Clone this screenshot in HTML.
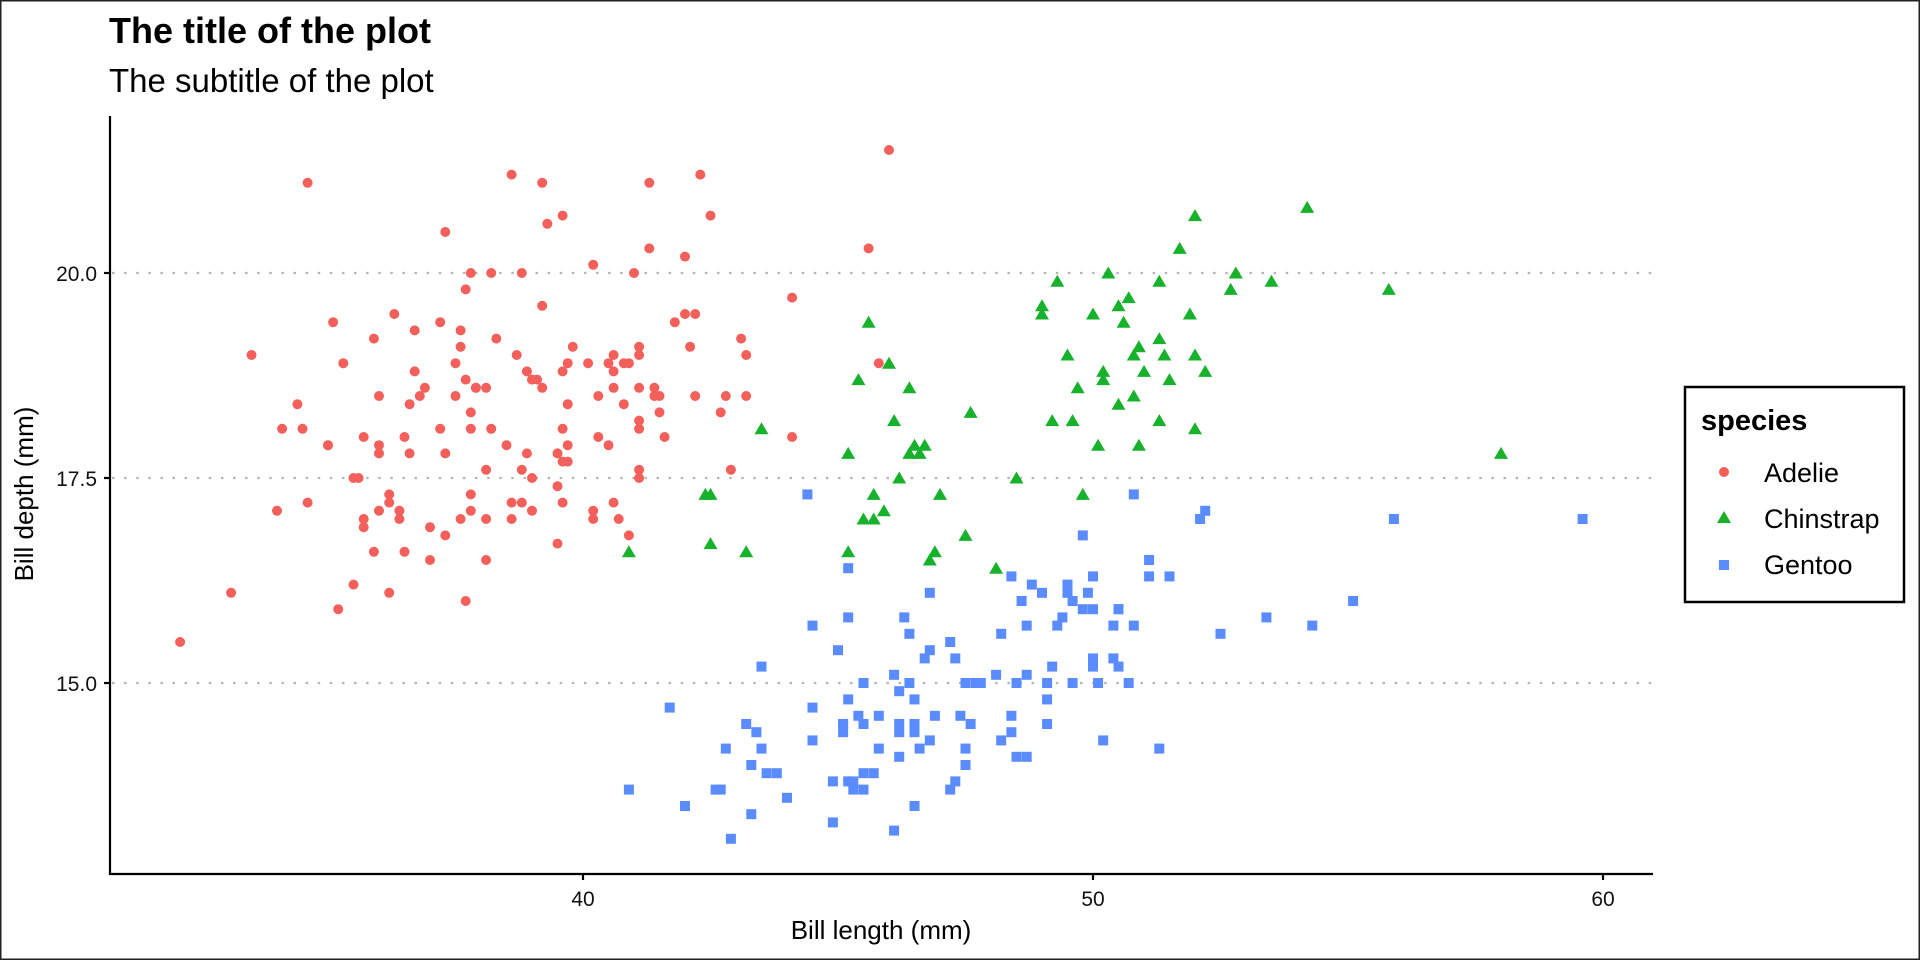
<!DOCTYPE html>
<html><head><meta charset="utf-8"><style>
html,body{margin:0;padding:0;background:#fff;}
svg{display:block;font-family:"Liberation Sans",Arial,sans-serif;}
</style></head><body>
<svg id="s" width="1920" height="960" xmlns="http://www.w3.org/2000/svg">
<rect x="0.75" y="0.75" width="1918.5" height="958.5" fill="#fff" stroke="#222" stroke-width="1.5"/>
<text x="109" y="43" font-size="36" font-weight="bold">The title of the plot</text>
<text x="109" y="92" font-size="33">The subtitle of the plot</text>
<g stroke="#b5b5b5" stroke-width="2.2" stroke-dasharray="2.5 9.6">
<line x1="112" x2="1653" y1="273" y2="273"/>
<line x1="112" x2="1653" y1="478" y2="478"/>
<line x1="112" x2="1653" y1="683" y2="683"/>
</g>
<g id="pts"></g>
<g stroke="#000" stroke-width="2.2">
<line x1="110" y1="116" x2="110" y2="875"/>
<line x1="109" y1="874" x2="1653" y2="874"/>
<line x1="104" x2="110" y1="273" y2="273"/>
<line x1="104" x2="110" y1="478" y2="478"/>
<line x1="104" x2="110" y1="683" y2="683"/>
<line x1="583" x2="583" y1="874" y2="880"/>
<line x1="1093" x2="1093" y1="874" y2="880"/>
<line x1="1603" x2="1603" y1="874" y2="880"/>
</g>
<g font-size="21" fill="#111" text-anchor="end">
<text x="97" y="281">20.0</text>
<text x="97" y="486">17.5</text>
<text x="97" y="691">15.0</text>
</g>
<g font-size="21" fill="#111" text-anchor="middle">
<text x="583" y="906">40</text>
<text x="1093" y="906">50</text>
<text x="1603" y="906">60</text>
</g>
<text x="881" y="939" font-size="26" text-anchor="middle">Bill length (mm)</text>
<text transform="translate(33,494) rotate(-90)" font-size="26" text-anchor="middle">Bill depth (mm)</text>
<rect x="1685" y="387" width="219" height="215" fill="#fff" stroke="#000" stroke-width="2.5"/>
<text x="1701" y="430" font-size="29" font-weight="bold">species</text>
<circle cx="1724" cy="472" r="5" fill="#F35F5A"/>
<polygon points="1724,511 1731,523 1717,523" fill="#17B12B"/>
<rect x="1719" y="560" width="10" height="10" fill="#5A8CFF"/>
<g font-size="27">
<text x="1764" y="482">Adelie</text>
<text x="1764" y="528">Chinstrap</text>
<text x="1764" y="574">Gentoo</text>
</g>
</svg>
<script>
var A="39.1 18.7,39.5 17.4,40.3 18,36.7 19.3,39.3 20.6,38.9 17.8,39.2 19.6,34.1 18.1,42 20.2,37.8 17.1,37.8 17.3,41.1 17.6,38.6 21.2,34.6 21.1,36.6 17.8,38.7 19,42.5 20.7,34.4 18.4,46 21.5,37.8 18.3,37.7 18.7,35.9 19.2,38.2 18.1,38.8 17.2,35.3 18.9,40.6 18.6,40.5 17.9,37.9 18.6,40.5 18.9,39.5 16.7,37.2 18.1,39.5 17.8,40.9 18.9,36.4 17,39.2 21.1,38.8 20,42.2 18.5,37.6 19.3,39.8 19.1,36.5 18,40.8 18.4,36 18.5,44.1 19.7,37 16.9,39.6 18.8,41.1 19,37.5 18.9,36 17.9,42.3 21.2,39.6 17.7,40.1 18.9,35 17.9,42 19.5,34.5 18.1,41.4 18.6,39 17.5,40.6 18.8,36.5 16.6,37.6 19.1,35.7 16.9,41.3 21.1,37.6 17,41.1 18.2,36.4 17.1,41.6 18,35.5 16.2,41.1 19.1,35.9 16.6,41.8 19.4,33.5 19,39.7 18.4,39.6 17.2,45.8 18.9,35.5 17.5,42.8 18.5,40.9 16.8,37.2 19.4,36.2 16.1,42.1 19.1,34.6 17.2,42.9 17.6,36.7 18.8,35.1 19.4,37.3 17.8,41.3 20.3,36.3 19.5,36.9 18.6,38.3 19.2,38.9 18.8,35.7 18,41.1 18.1,34 17.1,39.6 18.1,36.2 17.3,40.8 18.9,38.1 18.6,40.3 18.5,33.1 16.1,43.2 18.5,35 17.9,41 20,37.7 16,37.8 20,37.9 18.6,39.7 18.9,38.6 17.2,38.2 20,38.1 17,43.2 19,38.1 16.5,45.6 20.3,39.7 17.7,42.2 19.5,39.6 20.7,42.7 18.3,38.6 17,37.3 20.5,35.7 17,41.1 18.6,36.2 17.2,37.7 19.8,40.2 17,41.4 18.5,35.2 15.9,40.6 19,38.8 17.6,41.5 18.3,39 17.1,44.1 18,38.5 17.9,43.1 19.2,36.8 18.5,37.5 18.5,38.1 17.6,41.1 17.5,35.6 17.5,40.2 20.1,37 16.5,39.7 17.9,40.2 17.1,40.6 17.2,32.1 15.5,40.7 17,37.3 16.8,39 18.7,39.2 18.6,36.6 18.4,36 17.8,37.8 18.1,36 17.1,41.5 18.5";
var G="46.1 13.2,50 16.3,48.7 14.1,50 15.2,47.6 14.5,46.5 13.5,45.4 14.6,46.7 15.3,43.3 13.4,46.8 15.4,40.9 13.7,49 16.1,45.5 13.7,48.4 14.6,45.8 14.6,49.3 15.7,42 13.5,49.2 15.2,46.2 14.5,48.7 15.1,50.2 14.3,45.1 14.5,46.5 14.5,46.3 15.8,42.9 13.1,46.1 15.1,44.5 14.3,47.8 15,48.2 14.3,50 15.3,47.3 15.3,42.8 14.2,45.1 14.5,59.6 17,49.1 14.8,48.4 16.3,42.6 13.7,44.4 17.3,44 13.6,48.7 15.7,42.7 13.7,49.6 16,45.3 13.7,49.6 15,50.5 15.9,43.6 13.9,45.5 13.9,50.5 15.9,44.9 13.3,45.2 15.8,46.6 14.2,48.5 14.1,45.1 14.4,50.1 15,46.5 14.4,45 15.4,43.8 13.9,45.5 15,43.2 14.5,50.4 15.3,45.3 13.8,46.2 14.9,45.7 13.9,54.3 15.7,45.8 14.2,49.8 16.8,46.2 14.4,49.5 16.2,43.5 14.2,50.7 15,47.7 15,46.4 15.6,48.2 15.6,46.5 14.8,46.4 15,48.6 16,47.5 14.2,51.1 16.3,45.2 13.8,45.2 16.4,49.1 14.5,52.5 15.6,47.4 14.6,50 15.9,44.9 13.8,50.8 17.3,43.4 14.4,51.3 14.2,47.5 14,52.1 17,47.5 15,52.2 17.1,45.5 14.5,49.5 16.1,44.5 14.7,50.8 15.7,49.4 15.8,46.9 14.6,48.4 14.4,51.1 16.5,48.5 15,55.9 17,47.2 15.5,49.1 15,47.3 13.8,46.8 16.1,41.7 14.7,53.4 15.8,43.3 14,48.1 15.1,50.5 15.2,49.8 15.9,43.5 15.2,51.5 16.3,46.2 14.1,55.1 16,44.5 15.7,48.8 16.2,47.2 13.7,46.8 14.3,50.4 15.7,45.2 14.8,49.9 16.1";
var C="46.5 17.9,50 19.5,51.3 19.2,45.4 18.7,52.7 19.8,45.2 17.8,46.1 18.2,51.3 18.2,46 18.9,51.3 19.9,46.6 17.8,51.7 20.3,47 17.3,52 18.1,45.9 17.1,50.5 19.6,50.3 20,58 17.8,46.4 18.6,49.2 18.2,42.4 17.3,48.5 17.5,43.2 16.6,50.6 19.4,46.7 17.9,52 19,50.5 18.4,49.5 19,46.4 17.8,52.8 20,40.9 16.6,54.2 20.8,42.5 16.7,51 18.8,49.7 18.6,47.5 16.8,47.6 18.3,52 20.7,46.9 16.6,53.5 19.9,49 19.5,46.2 17.5,50.9 19.1,45.5 17,50.9 17.9,50.8 18.5,50.1 17.9,49 19.6,51.5 18.7,49.8 17.3,48.1 16.4,51.4 19,45.7 17.3,50.7 19.7,42.5 17.3,52.2 18.8,45.2 16.6,49.3 19.9,50.2 18.8,45.6 19.4,51.9 19.5,46.8 16.5,45.7 17,55.8 19.8,43.5 18.1,49.6 18.2,50.8 19,50.2 18.7";
function X(v){return 583+(v-40)*51;}function Y(v){return 273+(20-v)*82;}
var h="";
A.split(",").forEach(function(p){var a=p.split(" ");h+='<circle cx="'+X(+a[0]).toFixed(1)+'" cy="'+Y(+a[1]).toFixed(1)+'" r="5" fill="#F35F5A"/>';});
C.split(",").forEach(function(p){var a=p.split(" "),x=X(+a[0]),y=Y(+a[1]);h+='<polygon points="'+x+','+(y-6.5)+' '+(x+7)+','+(y+5.5)+' '+(x-7)+','+(y+5.5)+'" fill="#17B12B"/>';});
G.split(",").forEach(function(p){var a=p.split(" ");h+='<rect x="'+(X(+a[0])-5).toFixed(1)+'" y="'+(Y(+a[1])-5).toFixed(1)+'" width="10" height="10" fill="#5A8CFF"/>';});
document.getElementById("pts").innerHTML=h;
</script>
</body></html>
